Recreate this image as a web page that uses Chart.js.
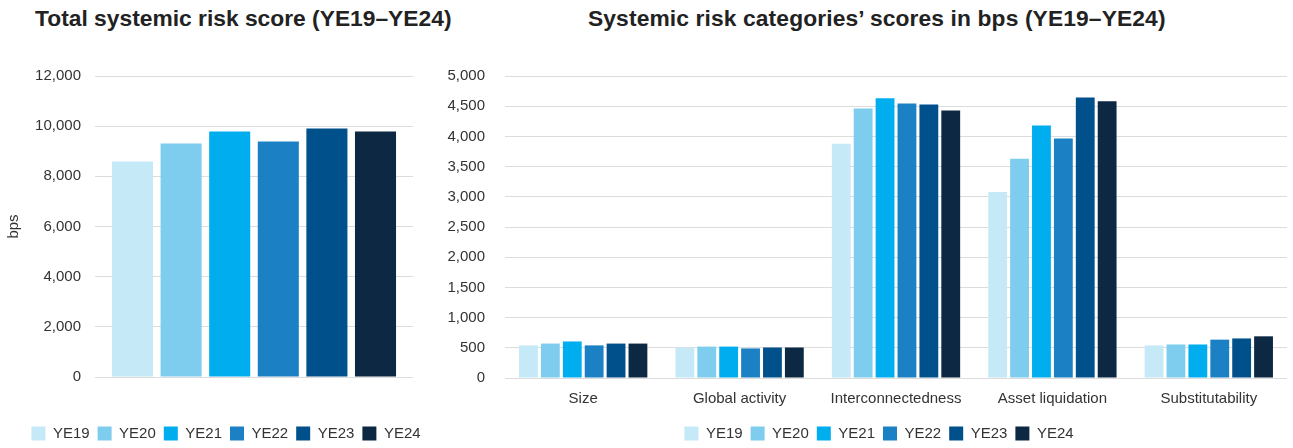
<!DOCTYPE html>
<html>
<head>
<meta charset="utf-8">
<script src="https://cdn.jsdelivr.net/npm/chart.js@4.4.1/dist/chart.umd.min.js"></script>
<style>
  body { margin: 0; width: 1293px; height: 448px; overflow: hidden; background: #fff; position: relative;
         font-family: "Liberation Sans", Arial, sans-serif; }
  .title { position: absolute; top: 5px; line-height: 26px; font-size: 22.8px; font-weight: bold; color: #222; white-space: nowrap; }
  #leftBox { position: absolute; left: 0; top: 0; }
  #rightBox { position: absolute; left: 430px; top: 0; }
</style>
</head>
<body>
<div class="title" style="left:35px">Total systemic risk score (YE19–YE24)</div>
<div class="title" style="left:588px; letter-spacing:0.12px">Systemic risk categories’ scores in bps (YE19–YE24)</div>
<div id="leftBox"><canvas id="totalChart" width="430" height="451"></canvas></div>
<div id="rightBox"><canvas id="catChart" width="863" height="451"></canvas></div>
<script>
// data
const years = ['YE19', 'YE20', 'YE21', 'YE22', 'YE23', 'YE24'];
const yearColors = ['#c6e9f8', '#7fcdee', '#00aeef', '#1c80c4', '#00508c', '#0d2842'];

const totalScore = [8590, 9310, 9790, 9390, 9910, 9790];

const categories = ['Size', 'Global activity', 'Interconnectedness', 'Asset liquidation', 'Substitutability'];
const ye19 = [540, 505, 3880, 3080, 540];
const ye20 = [570, 520, 4460, 3630, 555];
const ye21 = [605, 520, 4630, 4180, 555];
const ye22 = [540, 490, 4545, 3965, 635];
const ye23 = [570, 505, 4530, 4645, 655];
const ye24 = [570, 505, 4430, 4580, 690];
const catSeries = [ye19, ye20, ye21, ye22, ye23, ye24];

const textColor = '#333';
const gridColor = '#dcdcdc';

Chart.defaults.font.family = '"Liberation Sans", Arial, sans-serif';
Chart.defaults.font.size = 15;
Chart.defaults.color = textColor;

// nudge the legend sideways, the reference centres it a bit right of the plot
const shiftLegend = {
    id: 'shiftLegend',
    afterLayout(chart, args, opts) {
        const l = chart.legend;
        if (!l) return;
        l.left += opts.dx;
        l.right += opts.dx;
    }
};

const legendOpts = {
    position: 'bottom',
    labels: { boxWidth: 14, boxHeight: 14, padding: 8, color: textColor, font: { size: 15 } }
};

new Chart(document.getElementById('totalChart'), {
    type: 'bar',
    data: {
        labels: [''],
        datasets: years.map((y, i) => ({
            label: y,
            data: [totalScore[i]],
            backgroundColor: yearColors[i],
            categoryPercentage: 0.917,
            barPercentage: 0.845
        }))
    },
    options: {
        responsive: false,
        animation: false,
        layout: { padding: { top: 76, right: 17, left: 0, bottom: 0 } },
        plugins: {
            legend: legendOpts,
            tooltip: { enabled: false },
            shiftLegend: { dx: 19.5 }
        },
        scales: {
            x: {
                ticks: { display: false },
                grid: { display: false },
                border: { display: false },
                afterFit: s => { s.height = 41; }
            },
            y: {
                min: 0, max: 12000,
                ticks: { stepSize: 2000, padding: 14, color: textColor },
                grid: { color: gridColor, drawTicks: false },
                border: { display: false },
                title: { display: true, text: 'bps', color: textColor, font: { size: 15 }, padding: { top: 5, bottom: 0 } },
                afterFit: s => { s.width = 95; }
            }
        }
    },
    plugins: [shiftLegend]
});

new Chart(document.getElementById('catChart'), {
    type: 'bar',
    data: {
        labels: categories,
        datasets: years.map((y, i) => ({
            label: y,
            data: catSeries[i],
            backgroundColor: yearColors[i],
            categoryPercentage: 0.84,
            barPercentage: 0.86
        }))
    },
    options: {
        responsive: false,
        animation: false,
        layout: { padding: { top: 76, right: 6, left: 0, bottom: 0 } },
        plugins: {
            legend: legendOpts,
            tooltip: { enabled: false },
            shiftLegend: { dx: 20.5 }
        },
        scales: {
            x: {
                ticks: { padding: 4, color: textColor },
                grid: { display: false },
                border: { display: false },
                afterFit: s => { s.height = 40; }
            },
            y: {
                min: 0, max: 5000,
                ticks: { stepSize: 500, padding: 20, color: textColor },
                grid: { color: gridColor, drawTicks: false },
                border: { display: false },
                afterFit: s => { s.width = 75; }
            }
        }
    },
    plugins: [shiftLegend]
});
</script>
</body>
</html>
